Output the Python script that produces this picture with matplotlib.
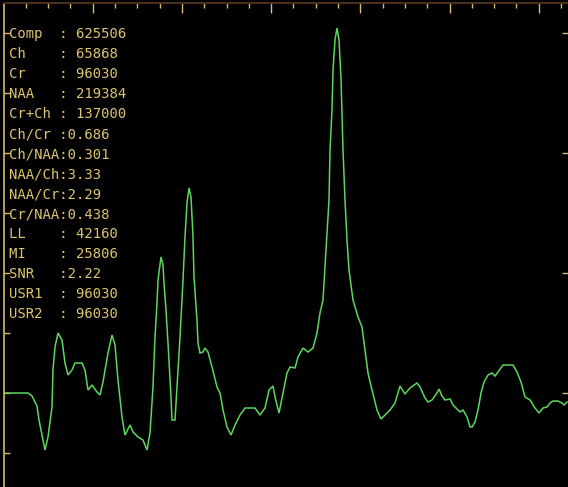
import matplotlib
matplotlib.use('Agg')
import matplotlib.pyplot as plt

# metabolite readout shown in the top left corner
labels = ['Comp', 'Ch', 'Cr', 'NAA', 'Cr+Ch', 'Ch/Cr', 'Ch/NAA', 'NAA/Ch',
          'NAA/Cr', 'Cr/NAA', 'LL', 'MI', 'SNR', 'USR1', 'USR2']
values = [' 625506', ' 65868', ' 96030', ' 219384', ' 137000', '0.686', '0.301', '3.33',
          '2.29', '0.438', ' 42160', ' 25806', '2.22', ' 96030', ' 96030']

# spectrum trace: channel number and amplitude (baseline = 0)
chan = [5, 28, 32, 37, 39, 43, 45, 48, 52, 53, 55, 58, 62, 65, 68, 72, 75, 82, 85, 88,
        92, 97, 100, 103, 108, 112, 115, 118, 122, 125, 130, 133, 138, 143, 147, 150,
        153, 155, 157, 158, 161, 163, 164, 166, 168, 171, 172, 175, 177, 180, 183, 185,
        187, 189, 191, 193, 194, 197, 198, 200, 203, 205, 208, 212, 217, 220, 223, 227,
        231, 235, 240, 245, 255, 260, 265, 269, 273, 275, 279, 283, 287, 290, 295, 298,
        303, 308, 313, 317, 320, 323, 326, 329, 330, 332, 333, 335, 337, 339, 341, 342,
        343, 345, 347, 349, 353, 358, 362, 365, 368, 372, 377, 381, 385, 390, 395, 400,
        405, 410, 417, 420, 425, 428, 432, 437, 439, 442, 445, 450, 453, 458, 460, 463,
        467, 470, 472, 475, 478, 481, 484, 488, 492, 495, 498, 503, 508, 513, 517, 521,
        525, 530, 535, 539, 543, 547, 550, 553, 558, 562, 564, 567]
amp = [0, 0, -3, -13, -27, -47, -57, -44, -14, 23, 46, 60, 53, 30, 18, 23, 30, 30, 23, 3,
       8, 1, -2, 11, 40, 58, 48, 13, -24, -42, -32, -39, -44, -47, -57, -40,
       6, 56, 90, 113, 136, 128, 110, 83, 50, -4, -27, -27, 6, 56, 113, 156,
       190, 205, 196, 156, 116, 73, 50, 40, 41, 45, 41, 26, 6, 0, -17, -34,
       -42, -32, -22, -15, -15, -22, -15, 3, 7, -4, -20, 0, 20, 26, 25, 36,
       45, 41, 45, 60, 80, 93, 143, 193, 243, 283, 323, 353, 365, 353, 315, 278,
       243, 193, 153, 123, 93, 76, 66, 43, 20, 3, -17, -26, -22, -17, -10, 7,
       -1, 5, 10, 6, -5, -9, -7, 0, 4, -3, -7, -6, -12, -17, -19, -17,
       -24, -34, -34, -29, -17, 0, 11, 18, 20, 17, 21, 28, 28, 28, 21, 11,
       -4, -7, -15, -20, -15, -14, -10, -8, -8, -10, -12, -9]

W, H = 568, 487
axis_col = '#d6bc6e'
text_col = '#dcc470'
line_col = '#5cd65c'

fig = plt.figure(figsize=(W / 100, H / 100), dpi=100, facecolor='black')
ax = fig.add_axes([4 / W, 0, (W - 4) / W, (H - 3) / H], facecolor='black')
ax.plot(chan, amp, color=line_col, linewidth=1.1, solid_joinstyle='miter')
ax.set_xlim(4, W)
ax.set_ylim(-94, 390)

# frame: left axis bright, top axis dim, no right/bottom line
for k, v in ax.spines.items():
    v.set_visible(k in ('left', 'top'))
ax.spines['left'].set_color(axis_col)
ax.spines['left'].set_linewidth(1.2)
ax.spines['top'].set_color('#4a3018')
ax.spines['top'].set_linewidth(1.5)

step = 22.3
ax.set_xticks([3.5 + step * k for k in range(4, 26, 4)])
ax.set_xticks([3.5 + step * k for k in range(1, 26) if k % 4], minor=True)
ax.tick_params(axis='x', which='both', top=True, bottom=False, direction='in',
               labeltop=False, labelbottom=False, color=axis_col, width=1)
ax.tick_params(axis='x', which='major', length=7.2)
ax.tick_params(axis='x', which='minor', length=3.6)

ax.set_yticks([360, 240, 120, 0])
ax.set_yticks([300, 180, 60, -60], minor=True)
ax.tick_params(axis='y', which='both', left=True, direction='in', labelleft=False,
               labelright=False, color=axis_col, width=1, length=4)
ax.tick_params(axis='y', which='major', right=True)
ax.tick_params(axis='y', which='minor', right=False)

# readout text, fixed-width rows
for i, (lab, val) in enumerate(zip(labels, values)):
    row = '%-6s:%s' % (lab, val)
    y = 33 + 20 * i
    fig.text(9 / W, 1 - (y + 5.3) / H, row, family='DejaVu Sans Mono', fontsize=10,
             color=text_col, va='baseline', ha='left')

fig.savefig('out.png', dpi=100, facecolor='black')
